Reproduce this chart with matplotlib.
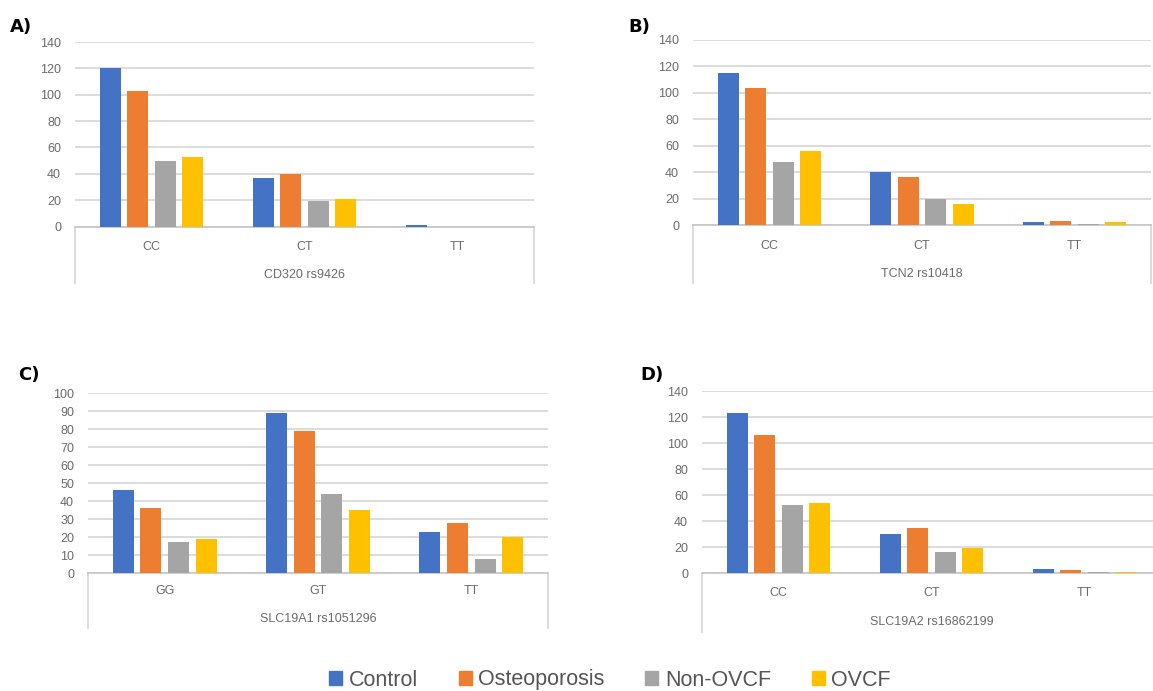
import matplotlib
matplotlib.use("Agg")
import matplotlib.pyplot as plt
from matplotlib.patches import Patch

# series
groups = ["Control", "Osteoporosis", "Non-OVCF", "OVCF"]
colors = ["#4472C4", "#ED7D31", "#A5A5A5", "#FFC000"]

# A) CD320 rs9426
a_cats = ["CC", "CT", "TT"]
a_control = [120, 37, 1]
a_osteo = [103, 40, 0]
a_nonovcf = [50, 19, 0]
a_ovcf = [53, 21, 0]

# B) TCN2 rs10418
b_cats = ["CC", "CT", "TT"]
b_control = [115, 40, 2]
b_osteo = [104, 36, 3]
b_nonovcf = [48, 20, 1]
b_ovcf = [56, 16, 2]

# C) SLC19A1 rs1051296
c_cats = ["GG", "GT", "TT"]
c_control = [46, 89, 23]
c_osteo = [36, 79, 28]
c_nonovcf = [17, 44, 8]
c_ovcf = [19, 35, 20]

# D) SLC19A2 rs16862199
d_cats = ["CC", "CT", "TT"]
d_control = [123, 30, 3]
d_osteo = [106, 35, 2]
d_nonovcf = [52, 16, 1]
d_ovcf = [54, 19, 1]

W, H = 1153, 691
fig = plt.figure(figsize=(W / 100, H / 100), dpi=100)
plt.rcParams["font.family"] = ["Liberation Sans", "DejaVu Sans"]

GRID = "#d9d9d9"
TXT = "#6b6b6b"


def panel(tag, title, cats, series, box, ymax, step, tag_xy):
    left, right, top, zero, brk, cat_y, grp_y = box
    hpx = zero - top
    ax = fig.add_axes([left / W, 1 - zero / H, (right - left) / W, hpx / H])
    for j, vals in enumerate(series):
        xs = [i + (j - 1.5) * 0.18 for i in range(len(cats))]
        ax.bar(xs, vals, width=0.137, color=colors[j], zorder=3)
    ax.set_xlim(-0.5, len(cats) - 0.5)
    ax.set_ylim(0, ymax)
    ax.set_yticks(range(0, ymax + 1, step))
    ax.tick_params(axis="y", length=0, pad=10, labelsize=9, labelcolor=TXT)
    ax.set_xticks([])
    ax.grid(axis="y", color=GRID, lw=1.3, zorder=0)
    for s in ["top", "left", "right"]:
        ax.spines[s].set_visible(False)
    ax.spines["bottom"].set_color("#c8c8c8")
    ax.spines["bottom"].set_linewidth(1.3)
    # category bracket
    yb = -(brk - zero) / hpx
    for xx in (0, 1):
        ax.plot([xx, xx], [0, yb], transform=ax.transAxes, color=GRID,
                lw=1.3, clip_on=False)
    for i, c in enumerate(cats):
        ax.text(i, -(cat_y - zero) / hpx, c, transform=ax.get_xaxis_transform(),
                ha="center", va="center", fontsize=9, color=TXT)
    ax.text(0.5, -(grp_y - zero) / hpx, title, transform=ax.transAxes,
            ha="center", va="center", fontsize=9, color=TXT)
    fig.text(tag_xy[0] / W, 1 - tag_xy[1] / H, tag, ha="left", va="center",
             fontsize=13, fontweight="bold", family="DejaVu Sans")
    return ax


panel("A)", "CD320 rs9426", a_cats, [a_control, a_osteo, a_nonovcf, a_ovcf],
      (75, 534, 42, 226.5, 283, 247, 275), 140, 20, (10, 27))
panel("B)", "TCN2 rs10418", b_cats, [b_control, b_osteo, b_nonovcf, b_ovcf],
      (693, 1151, 40, 225, 283, 246, 274), 140, 20, (628, 27))
panel("C)", "SLC19A1 rs1051296", c_cats, [c_control, c_osteo, c_nonovcf, c_ovcf],
      (88, 548, 393, 573, 628, 591, 619), 100, 10, (18, 375))
panel("D)", "SLC19A2 rs16862199", d_cats, [d_control, d_osteo, d_nonovcf, d_ovcf],
      (702, 1161, 391, 573, 632, 593, 622), 140, 20, (640, 375))

handles = [Patch(color=c, label=g) for c, g in zip(colors, groups)]
fig.legend(handles=handles, loc="center", bbox_to_anchor=(610 / W, 1 - 680 / H),
           ncol=4, frameon=False, fontsize=15.5, handlelength=0.6, handleheight=0.6,
           handletextpad=0.3, columnspacing=1.9, labelcolor="#555555")

fig.savefig("out.png", dpi=100)
